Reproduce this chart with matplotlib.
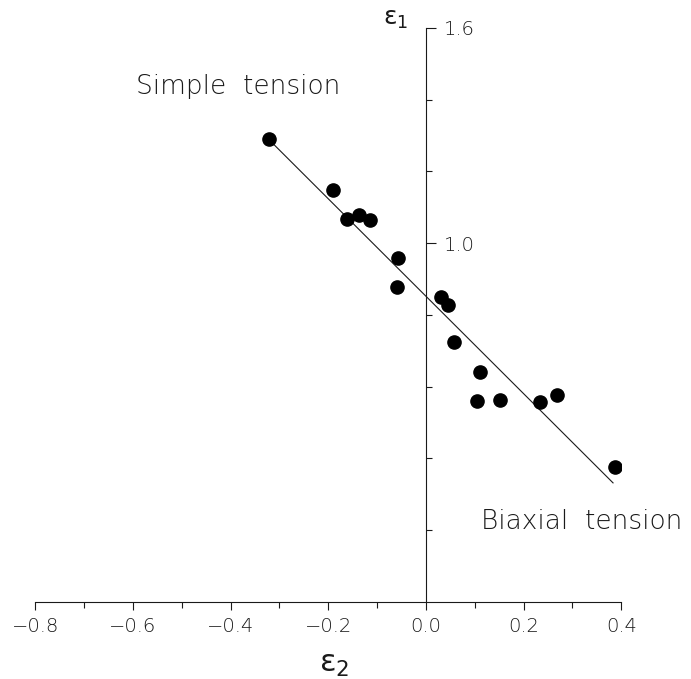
import matplotlib
matplotlib.use("Agg")
import matplotlib.pyplot as plt
from matplotlib.ticker import FixedLocator, FixedFormatter

# ---- data ----
eps2 = [-0.321, -0.190, -0.161, -0.137, -0.114, -0.058, -0.059, 0.031,
        0.046, 0.058, 0.110, 0.105, 0.151, 0.233, 0.268, 0.387]
eps1 = [1.290, 1.148, 1.067, 1.078, 1.064, 0.959, 0.877, 0.849,
        0.827, 0.724, 0.642, 0.560, 0.564, 0.557, 0.576, 0.375]

fit_x = [-0.323, 0.383]
fit_y = [1.291, 0.332]

xtick_major = [-0.8, -0.6, -0.4, -0.2, 0.0, 0.2, 0.4]
xtick_major_labels = ["\u22120.8", "\u22120.6", "\u22120.4", "\u22120.2", "0.0", "0.2", "0.4"]
xtick_minor = [-0.7, -0.5, -0.3, -0.1, 0.1, 0.3]

ytick_major = [1.0, 1.6]
ytick_major_labels = ["1.0", "1.6"]
ytick_minor = [0.2, 0.4, 0.6, 0.8, 1.2, 1.4]

label_simple = "Simple  tension"
label_biaxial = "Biaxial  tension"

# ---- figure ----
fig = plt.figure(figsize=(6.91, 6.79), dpi=100)
ax = fig.add_axes([0.0509, 0.1134, 0.8483, 0.8454])
ax.set_xlim(-0.8, 0.4)
ax.set_ylim(0.0, 1.6)

ink = "#1a1a1a"

ax.plot(fit_x, fit_y, color=ink, lw=0.8, zorder=2)
ax.plot(eps2, eps1, linestyle="none", marker="o", markersize=9.5,
        markerfacecolor="black", markeredgecolor="black", zorder=3)

for s in ["top", "right"]:
    ax.spines[s].set_visible(False)
ax.spines["left"].set_position(("data", 0.0))
ax.spines["left"].set_color(ink)
ax.spines["left"].set_linewidth(0.8)
ax.spines["bottom"].set_color(ink)
ax.spines["bottom"].set_linewidth(0.8)

ax.xaxis.set_major_locator(FixedLocator(xtick_major))
ax.xaxis.set_major_formatter(FixedFormatter(xtick_major_labels))
ax.xaxis.set_minor_locator(FixedLocator(xtick_minor))
ax.tick_params(axis="x", which="major", direction="out", length=5.5, width=0.8,
               pad=5.5, labelsize=14, colors=ink)
ax.tick_params(axis="x", which="minor", direction="out", length=4.5, width=0.8,
               colors=ink)

ax.yaxis.set_major_locator(FixedLocator(ytick_major))
ax.yaxis.set_major_formatter(FixedFormatter(ytick_major_labels))
ax.yaxis.set_minor_locator(FixedLocator(ytick_minor))
ax.tick_params(axis="y", which="major", direction="in", length=7, width=0.8,
               pad=-13, labelsize=14, colors=ink)
ax.tick_params(axis="y", which="minor", direction="in", length=4, width=0.8,
               colors=ink)
for lab in ax.get_yticklabels():
    lab.set_horizontalalignment("left")

for lab in ax.get_xticklabels() + ax.get_yticklabels():
    lab.set_fontweight("light")

ax.text(-0.384, 1.416, label_simple, ha="center", va="baseline", fontsize=19,
        fontweight="light", color=ink)
ax.text(0.319, 0.203, label_biaxial, ha="center", va="baseline", fontsize=19,
        fontweight="light", color=ink, clip_on=False)

ax.text(-0.063, 1.625, r"$\mathrm{\varepsilon}_1$", ha="center", va="center",
        fontsize=18, color=ink, clip_on=False)
ax.text(-0.188, -0.173, r"$\mathrm{\varepsilon}_2$", ha="center", va="center",
        fontsize=22, color=ink, clip_on=False)

fig.savefig("out.png", dpi=100)
